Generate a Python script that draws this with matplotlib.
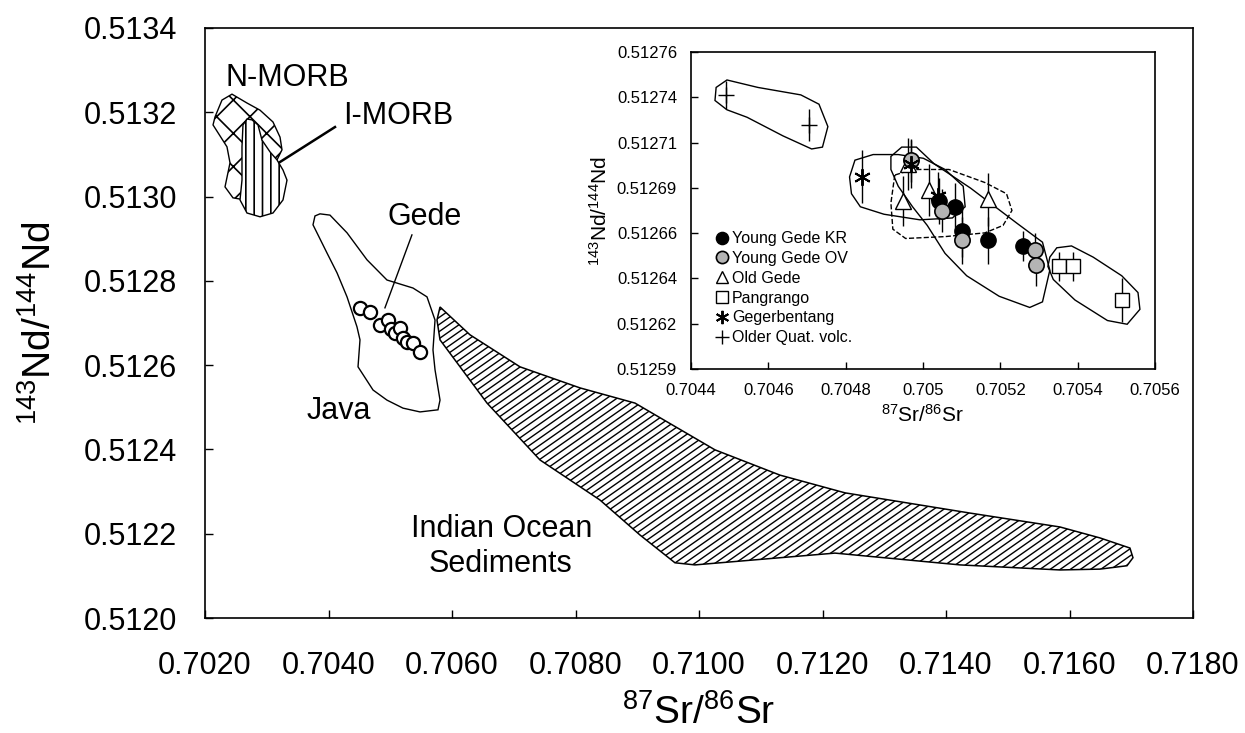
import numpy as np
import matplotlib
matplotlib.use("Agg")
import matplotlib.pyplot as plt
from matplotlib.patches import Polygon
from matplotlib.lines import Line2D
from matplotlib.ticker import MultipleLocator, FormatStrFormatter, FixedLocator, FixedFormatter

plt.rcParams["font.family"] = ["Liberation Sans", "DejaVu Sans"]
plt.rcParams["mathtext.fontset"] = "custom"
plt.rcParams["mathtext.rm"] = "Liberation Sans"
plt.rcParams["mathtext.it"] = "Liberation Sans"
plt.rcParams["hatch.linewidth"] = 1.2

# ---- main diagram fields (87Sr/86Sr, 143Nd/144Nd) ----
nmorb_x = [0.702162, 0.702275, 0.702437, 0.70268, 0.702891, 0.703101, 0.703215, 0.703247,
           0.703166, 0.702972, 0.702648, 0.702453, 0.702324, 0.702405, 0.702356, 0.70213]
nmorb_y = [0.513189, 0.513229, 0.513243, 0.513222, 0.513205, 0.513177, 0.513141, 0.513111,
           0.513087, 0.512992, 0.512992, 0.512997, 0.513023, 0.51308, 0.513118, 0.51317]

imorb_x = [0.70268, 0.702761, 0.702858, 0.702923, 0.703053, 0.703166, 0.703263, 0.703328,
           0.703263, 0.703101, 0.702891, 0.70268, 0.702567, 0.702599, 0.702599, 0.702615]
imorb_y = [0.513184, 0.513182, 0.51317, 0.513134, 0.513106, 0.513087, 0.513063, 0.513039,
           0.512992, 0.512961, 0.512952, 0.512961, 0.512992, 0.513039, 0.513118, 0.51317]

java_x = [0.703862, 0.704024, 0.7043, 0.704623, 0.704947, 0.705368, 0.705595, 0.705725,
          0.705692, 0.705725, 0.705806, 0.705773, 0.705482, 0.705206, 0.704947, 0.704721,
          0.704478, 0.70451, 0.704461, 0.7043, 0.704138, 0.703976, 0.703749, 0.703781]
java_y = [0.512959, 0.512956, 0.512914, 0.51285, 0.512802, 0.512783, 0.512762, 0.512707,
          0.512636, 0.512589, 0.512517, 0.512494, 0.512489, 0.512498, 0.512517, 0.512541,
          0.512596, 0.51266, 0.512691, 0.512762, 0.512819, 0.512866, 0.512933, 0.512954]

sed_x = [0.705806, 0.706291, 0.707101, 0.708073, 0.708963, 0.710259, 0.711312, 0.712364,
         0.714388, 0.715846, 0.716494, 0.716979, 0.717028, 0.716931, 0.716494, 0.715846,
         0.714227, 0.712202, 0.709935, 0.709611, 0.709044, 0.708396, 0.707425, 0.706567,
         0.705806, 0.705757]
sed_y = [0.512738, 0.512672, 0.512596, 0.512546, 0.51251, 0.512399, 0.512339, 0.512297,
         0.512249, 0.512216, 0.51219, 0.512166, 0.512143, 0.512124, 0.512116, 0.512114,
         0.512126, 0.512154, 0.512126, 0.512131, 0.512197, 0.51228, 0.512375, 0.51251,
         0.51266, 0.512707]

gede_sr = [0.70451, 0.70468, 0.70483, 0.70497, 0.70501, 0.70508, 0.70516, 0.7052,
           0.70527, 0.70537, 0.70548]
gede_nd = [0.512736, 0.512725, 0.512695, 0.512706, 0.512685, 0.512676, 0.512688, 0.512664,
           0.512656, 0.512652, 0.51263]

# ---- inset: Gede volcanic complex ----
kr_sr = [0.705041, 0.705083, 0.705102, 0.705167, 0.705258]
kr_nd = [0.51268, 0.512677, 0.512664, 0.512659, 0.512656]
kr_err = [1.25e-5, 1.25e-5, 1.42e-5, 1.25e-5, 8e-6]

ov_sr = [0.704969, 0.705048, 0.705102, 0.705289, 0.705291]
ov_nd = [0.512702, 0.512675, 0.512659, 0.512654, 0.512646]
ov_err = [1.15e-5, 1.16e-5, 1.25e-5, 9e-6, 1.16e-5]

old_sr = [0.704948, 0.704962, 0.705015, 0.705169]
old_nd = [0.51268, 0.5127, 0.512686, 0.512681]
old_err = [1.33e-5, 1.4e-5, 1.42e-5, 1.42e-5]

pan_sr = [0.705351, 0.705388, 0.705514]
pan_nd = [0.512645, 0.512645, 0.512627]
pan_err = [8e-6, 8e-6, 1.2e-5]

geg_sr = [0.704843, 0.704969, 0.705039]
geg_nd = [0.512693, 0.5127, 0.512683]
geg_err = [1.42e-5, 1.3e-5, 1.25e-5]

oqv_sr = [0.704491, 0.704705]
oqv_nd = [0.512737, 0.512721]
oqv_err = [7.7e-6, 8.5e-6]

field_oqv_x = [0.704465, 0.704493, 0.704573, 0.704684, 0.704731, 0.704754, 0.70474, 0.704712,
               0.704638, 0.704545, 0.704493, 0.704462]
field_oqv_y = [0.512741, 0.512745, 0.512741, 0.512737, 0.512732, 0.51272, 0.512709, 0.512708,
               0.512715, 0.512725, 0.512729, 0.512734]

field_geg_x = [0.70481, 0.704824, 0.704871, 0.704936, 0.705001, 0.705057, 0.705104, 0.705109,
               0.705076, 0.704992, 0.704899, 0.704838, 0.704815]
field_geg_y = [0.512693, 0.512702, 0.512705, 0.512705, 0.512703, 0.512697, 0.512688, 0.512677,
               0.512671, 0.51267, 0.512673, 0.512677, 0.512684]

field_yg_x = [0.704917, 0.704917, 0.704945, 0.704983, 0.705029, 0.705123, 0.705244, 0.705309,
              0.705328, 0.705309, 0.705276, 0.705197, 0.705113, 0.705057, 0.705011, 0.704973,
              0.704936]
field_yg_y = [0.512697, 0.512704, 0.512709, 0.512709, 0.5127, 0.512687, 0.512668, 0.512658,
              0.512643, 0.512626, 0.512623, 0.512629, 0.51264, 0.512652, 0.512667, 0.512677,
              0.512688]

field_og_x = [0.704927, 0.704917, 0.704922, 0.704955, 0.705057, 0.70516, 0.705207, 0.70523,
              0.705216, 0.70516, 0.705067, 0.704973]
field_og_y = [0.512694, 0.512679, 0.512665, 0.51266, 0.512661, 0.512663, 0.512667, 0.512675,
              0.512684, 0.51269, 0.512697, 0.512697]

field_pan_x = [0.705323, 0.705328, 0.705346, 0.705384, 0.70544, 0.705514, 0.705556, 0.705561,
               0.705528, 0.705477, 0.705393, 0.705337]
field_pan_y = [0.512645, 0.51265, 0.512655, 0.512656, 0.51265, 0.51264, 0.512631, 0.512622,
               0.512614, 0.512616, 0.512627, 0.512638]

inset_yticks = ["0.51259", "0.51262", "0.51264", "0.51266", "0.51269", "0.51271", "0.51274", "0.51276"]
inset_xticks = ["0.7044", "0.7046", "0.7048", "0.705", "0.7052", "0.7054", "0.7056"]


def slanted_hatch(ax, patch, angle=35, spacing=5.8, lw=1.0):
    # diagonal fill lines clipped to a patch (matplotlib hatches are fixed at 45 deg)
    bb = ax.get_window_extent()
    w, h = bb.width, bb.height
    t = np.tan(np.radians(angle))
    step = spacing / np.cos(np.radians(angle))
    for c in np.arange(-w * t, h, step):
        xs = np.array([0.0, w])
        ys = c + t * xs
        ln = Line2D(xs / w, ys / h, transform=ax.transAxes, color="black", lw=lw, zorder=4)
        ln.set_clip_path(patch)
        ax.add_line(ln)


fig = plt.figure(figsize=(12.45, 7.33), dpi=100)
ax = fig.add_axes([205 / 1245, 1 - 618 / 733, 988 / 1245, 590 / 733])

ax.add_patch(Polygon(np.column_stack([nmorb_x, nmorb_y]), closed=True, facecolor="white",
                     edgecolor="black", hatch="x", lw=1.0, zorder=2))
ax.add_patch(Polygon(np.column_stack([imorb_x, imorb_y]), closed=True, facecolor="white",
                     edgecolor="black", hatch="||", lw=1.0, zorder=3))
ax.add_patch(Polygon(np.column_stack([java_x, java_y]), closed=True, facecolor="none",
                     edgecolor="black", lw=1.0, zorder=2))
sed = Polygon(np.column_stack([sed_x, sed_y]), closed=True, facecolor="white",
              edgecolor="black", lw=1.1, zorder=3)
ax.add_patch(sed)

ax.plot(gede_sr, gede_nd, "o", ms=9.5, mfc="white", mec="black", mew=1.6, zorder=5)

ax.plot([0.703214, 0.704105], [0.513082, 0.513165], color="black", lw=1.8, zorder=4)
ax.plot([0.705351, 0.704914], [0.512909, 0.512736], color="black", lw=1.0, zorder=4)

lab = dict(fontsize=22, ha="center", va="center")
ax.text(0.703328, 0.513281, "N-MORB", **lab)
ax.text(0.705125, 0.513191, "I-MORB", **lab)
ax.text(0.705562, 0.512952, "Gede", **lab)
ax.text(0.704169, 0.512491, "Java", **lab)
ax.text(0.706808, 0.512211, "Indian Ocean", **lab)
ax.text(0.706792, 0.512128, "Sediments", **lab)

ax.set_xlim(0.7020, 0.7180)
ax.set_ylim(0.5120, 0.5134)
ax.xaxis.set_major_locator(MultipleLocator(0.002))
ax.yaxis.set_major_locator(MultipleLocator(0.0002))
ax.xaxis.set_major_formatter(FormatStrFormatter("%.4f"))
ax.yaxis.set_major_formatter(FormatStrFormatter("%.4f"))
ax.tick_params(direction="in", length=6, width=1, labelsize=22, pad=20)
ax.tick_params(axis="x", pad=24)
for s in ax.spines.values():
    s.set_linewidth(1.2)
ax.set_xlabel(r"$^{87}$Sr/$^{86}$Sr", fontsize=28, va="center")
ax.set_ylabel(r"$^{143}$Nd/$^{144}$Nd", fontsize=28, va="center")
ax.xaxis.set_label_coords(0.5, (618 - 713) / 590)
ax.yaxis.set_label_coords((40 - 205) / 988, 0.5)

slanted_hatch(ax, sed)

# ---- inset ----
ins = fig.add_axes([691 / 1245, 1 - 369 / 733, 464 / 1245, 317 / 733])
ins.set_xlim(0.7044, 0.7056)
ins.set_ylim(0.51259, 0.51276)

for fx, fy, ls in [(field_oqv_x, field_oqv_y, "-"), (field_geg_x, field_geg_y, "-"),
                   (field_yg_x, field_yg_y, "-"), (field_og_x, field_og_y, "--"),
                   (field_pan_x, field_pan_y, "-")]:
    ins.add_patch(Polygon(np.column_stack([fx, fy]), closed=True, facecolor="none",
                          edgecolor="black", lw=1.0, ls=ls, zorder=2))

eb = dict(ls="none", ecolor="black", elinewidth=1.0, capsize=0, zorder=4)
ins.errorbar(oqv_sr, oqv_nd, yerr=oqv_err, marker="+", ms=12, mec="black", mew=1.0,
             label="Older Quat. volc.", **eb)
ins.errorbar(old_sr, old_nd, yerr=old_err, marker="^", ms=11, mfc="white", mec="black",
             mew=1.0, label="Old Gede", **eb)
ins.errorbar(pan_sr, pan_nd, yerr=pan_err, marker="s", ms=10, mfc="white", mec="black",
             mew=1.0, label="Pangrango", **eb)
ins.errorbar(kr_sr, kr_nd, yerr=kr_err, marker="o", ms=11, mfc="black", mec="black",
             mew=1.0, label="Young Gede KR", **eb)
ins.errorbar(ov_sr, ov_nd, yerr=ov_err, marker="o", ms=11, mfc="#b4b4b4", mec="black",
             mew=1.2, label="Young Gede OV", **eb)
ins.errorbar(geg_sr, geg_nd, yerr=geg_err, marker=(6, 2, 0), ms=12, mec="black", mew=1.4,
             label="Gegerbentang", **eb)

handles, labels = ins.get_legend_handles_labels()
order = ["Young Gede KR", "Young Gede OV", "Old Gede", "Pangrango", "Gegerbentang",
         "Older Quat. volc."]
hmap = dict(zip(labels, handles))
leg_h = []
for name in order:
    h = hmap[name][0]
    leg_h.append(Line2D([], [], ls="none", marker=h.get_marker(), ms=h.get_markersize() * 0.8,
                        mfc=h.get_markerfacecolor(), mec="black", mew=h.get_markeredgewidth()))
ins.legend(leg_h, order, loc="upper left", bbox_to_anchor=(0.03, 0.47), frameon=False,
           fontsize=11.5, handlelength=0.8, handletextpad=0.2, labelspacing=0.3,
           borderpad=0.2)

ins.xaxis.set_major_locator(FixedLocator(np.linspace(0.7044, 0.7056, 7)))
ins.xaxis.set_major_formatter(FixedFormatter(inset_xticks))
ins.yaxis.set_major_locator(FixedLocator(np.linspace(0.51259, 0.51276, 8)))
ins.yaxis.set_major_formatter(FixedFormatter(inset_yticks))
ins.tick_params(direction="in", length=5, width=1, labelsize=12, pad=10)
for s in ins.spines.values():
    s.set_linewidth(1.2)
ins.set_xlabel(r"$^{87}$Sr/$^{86}$Sr", fontsize=15, va="center")
ins.set_ylabel(r"$^{143}$Nd/$^{144}$Nd", fontsize=15, va="center")
ins.xaxis.set_label_coords(0.5, (369 - 415) / 317)
ins.yaxis.set_label_coords((600 - 691) / 464, 0.5)

fig.savefig("out.png", dpi=100)
